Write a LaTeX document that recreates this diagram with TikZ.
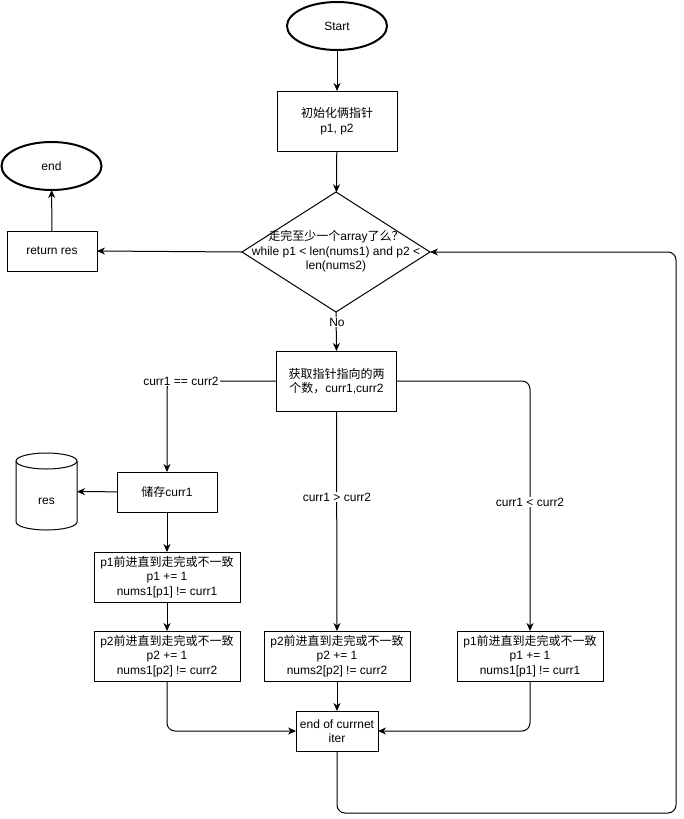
\documentclass[tikz,border=0pt]{standalone}
\usepackage{fontspec}
\setmainfont{Liberation Sans}
\newfontfamily\cjk{Noto Sans CJK SC}
\usetikzlibrary{arrows.meta,shapes.geometric}
\def\zh#1{{\cjk #1}}
\tikzset{
	base/.style={font=\fontsize{12pt}{14.4pt}\selectfont, inner sep=0pt, outer sep=0pt, align=center},
	box/.style={base, draw, line width=1pt, rectangle},
	term/.style={base, draw, line width=2pt, ellipse, minimum width=100pt, minimum height=48pt},
	flow/.style={line width=1pt, rounded corners=8pt, -{Stealth[length=8pt,width=7pt,inset=2.5pt]}},
	tag/.style={base, fill=white, inner sep=1pt}
}
\begin{document}
\begin{tikzpicture}[x=1pt, y=-1pt]
			%%%%% START %%%%%
			\useasboundingbox (0,0) rectangle (684,819);
			
			\node[term] (start) at (337,26) {Start};
			\node[box, minimum width=120pt, minimum height=60pt] (init) at (337,121) {\zh{初始化俩指针}\\p1, p2};
			
			\node[base, draw, line width=1pt, diamond, minimum width=188pt, minimum height=120pt] (cond) at (336,252) {};
			\node[base] (condtext) at (336,251.5) {\zh{走完至少一个}array\zh{了么？}\\while p1 < len(nums1) and p2 <\\len(nums2)};
			
			\node[box, minimum width=90pt, minimum height=40pt] (ret) at (52,251) {return res};
			\node[term] (endnode) at (51.5,166) {end};
			
			\node[box, minimum width=120pt, minimum height=60pt] (fetch) at (336.5,381) {\zh{获取指针指向的两}\\\zh{个数，}curr1,curr2};
			
			\node[box, minimum width=100pt, minimum height=40pt] (store) at (167,492) {\zh{储存}curr1};
			\node[base, minimum width=61pt, minimum height=77pt] (res) at (46.5,491.5) {};
			\draw[line width=1pt] (16,461) -- (16,522) arc (180:0:30.5 and 8) -- (77,461);
			\draw[line width=1pt] (46.5,461) ellipse (30.5 and 8);
			\node[base] (restext) at (46.5,501) {res};
			
			\node[box, minimum width=146pt, minimum height=50pt] (adva) at (167,577) {p1\zh{前进直到走完或不一致}\\p1 += 1\\nums1[p1] != curr1};
			\node[box, minimum width=146pt, minimum height=50pt] (advb) at (167,656) {p2\zh{前进直到走完或不一致}\\p2 += 1\\nums1[p2] != curr2};
			\node[box, minimum width=146pt, minimum height=50pt] (advc) at (337,656) {p2\zh{前进直到走完或不一致}\\p2 += 1\\nums2[p2] != curr2};
			\node[box, minimum width=146pt, minimum height=50pt] (advd) at (530,656) {p1\zh{前进直到走完或不一致}\\p1 += 1\\nums1[p1] != curr1};
			
			\node[box, minimum width=82pt, minimum height=40pt] (iterend) at (337,731) {end of currnet\\iter};
			\coordinate (loopcorner) at (676,813);
			
			\draw[flow] (start) -- (init);
			\draw[flow] (init) -- (cond);
			\draw[flow] (cond.west) -- (ret.east);
			\draw[flow] (ret) -- (endnode);
			\draw[flow] (cond.south) -- (fetch.north);
			\draw[flow] (fetch.west) -| (store.north);
			\draw[flow] (fetch.south) -- (advc.north);
			\draw[flow] (fetch.east) -| (advd.north);
			\draw[flow] (store) -- (res);
			\draw[flow] (store) -- (adva);
			\draw[flow] (adva) -- (advb);
			\draw[flow] (advb.south) |- (iterend.west);
			\draw[flow] (advc) -- (iterend);
			\draw[flow] (advd.south) |- (iterend.east);
			\draw[flow] (iterend.south) |- (loopcorner) |- (cond.east);
			
			\node[tag] (nolabel) at (337,322) {No};
			\node[tag] (eqlabel) at (181,381) {curr1 == curr2};
			\node[tag] (gtlabel) at (337,497) {curr1 > curr2};
			\node[tag] (ltlabel) at (530,502) {curr1 < curr2};
			%%%%% END %%%%%
		\end{tikzpicture}
\end{document}
